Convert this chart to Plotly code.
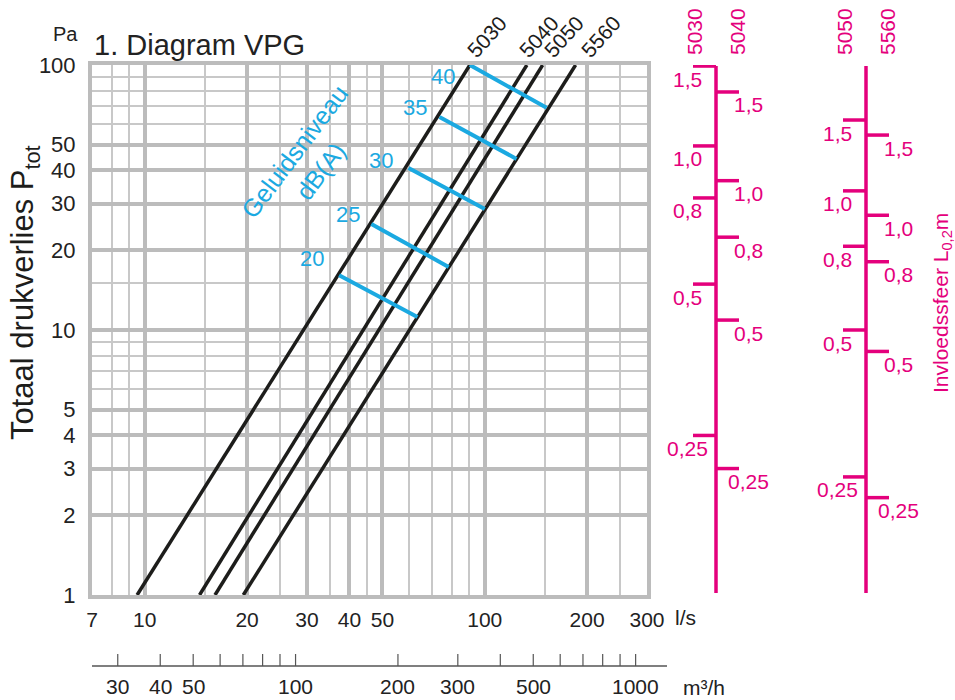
import numpy as np
import plotly.graph_objects as go

# ---------------- data ----------------
curve_names = ["5030", "5040", "5050", "5560"]
flow_at_1pa = [9.5, 14.5, 16.1, 19.5]          # l/s at 1 Pa
flow_at_100pa = [90.4, 133.0, 148.0, 185.0]    # l/s at 100 Pa
pressure_ends = [1, 100]                        # Pa

db_levels = ["20", "25", "30", "35", "40"]
db_flow_start = [37.3, 46.4, 59.7, 73.6, 90.4]
db_pa_start = [16.1, 25.1, 40.9, 63.7, 100.0]
db_flow_end = [63.4, 78.3, 100.0, 124.0, 152.0]
db_pa_end = [11.2, 17.3, 28.6, 44.2, 68.9]

x_major = [7, 10, 20, 30, 40, 50, 100, 200, 300]
x_minor = [8, 9, 15, 25, 35, 45, 60, 70, 80, 90, 150, 250]
y_major = [1, 2, 3, 4, 5, 10, 20, 30, 40, 50, 100]
y_minor = [6, 7, 8, 9, 15, 60, 70, 80, 90]

m3h_ticks = [30, 40, 50, 60, 70, 80, 90, 100, 200, 300, 400, 500, 600, 700, 800, 900, 1000]
m3h_labels = [30, 40, 50, 100, 200, 300, 500, 1000]
M3H_TO_LS = 1 / 3.6

throw_labels = ["1,5", "1,0", "0,8", "0,5", "0,25"]
throw_pa_5030 = [99.1, 49.5, 31.5, 14.9, 4.0]
throw_pa_5040 = [79.1, 36.6, 22.4, 10.9, 3.0]
throw_pa_5050 = [62.0, 33.5, 20.7, 10.0, 2.79]
throw_pa_5560 = [54.4, 27.1, 18.1, 8.3, 2.33]

# ---------------- style ----------------
FONT = "Liberation Sans"
BLACK = "#1d1d1b"
GRID_MAJ = "#bcbcbc"
GRID_MIN = "#c8c8c8"
BLUE = "#1ba9e1"
MAGENTA = "#e4007c"
TXT = "#222222"

W, H = 955, 700
L, R, T, B = 92, 308, 65, 105
PW, PH = W - L - R, H - T - B


def px_x(p):
    return (p - L) / PW


def px_y(p):
    return (H - B - p) / PH


fig = go.Figure()

# curves
for name, q1, q100 in zip(curve_names, flow_at_1pa, flow_at_100pa):
    fig.add_trace(go.Scatter(x=[q1, q100], y=pressure_ends, mode="lines",
                             line=dict(color=BLACK, width=3.5), name=name,
                             hoverinfo="skip"))

# dB(A) lines
for lvl, xs, ys, xe, ye in zip(db_levels, db_flow_start, db_pa_start, db_flow_end, db_pa_end):
    fig.add_trace(go.Scatter(x=[xs, xe], y=[ys, ye], mode="lines",
                             line=dict(color=BLUE, width=4), name=lvl + " dB(A)",
                             hoverinfo="skip"))

annotations = []
shapes = []

# curve labels
curve_label_dx = [17, 12, 21, 25]
for name, q100, dx in zip(curve_names, flow_at_100pa, curve_label_dx):
    annotations.append(dict(x=np.log10(q100), y=np.log10(pressure_ends[1]), xref="x", yref="y",
                            text=name, showarrow=False, textangle=-48,
                            xanchor="center", yanchor="middle", xshift=dx, yshift=29,
                            font=dict(family=FONT, size=21, color=BLACK)))

# dB labels
db_label_shift = [(-27, 17), (-23, 10), (-28, 7), (-24, 9), (-27, -11)]
for lvl, xs, ys, (dx, dy) in zip(db_levels, db_flow_start, db_pa_start, db_label_shift):
    annotations.append(dict(x=np.log10(xs), y=np.log10(ys), xref="x", yref="y",
                            text=lvl, showarrow=False, xanchor="center", yanchor="middle",
                            xshift=dx, yshift=dy,
                            font=dict(family=FONT, size=22, color=BLUE)))

annotations.append(dict(x=px_x(308), y=px_y(162), xref="paper", yref="paper",
                        text="Geluidsniveau<br>dB(A)", showarrow=False, textangle=-53,
                        xanchor="center", yanchor="middle",
                        font=dict(family=FONT, size=25, color=BLUE)))

# title, units
annotations.append(dict(x=0, y=px_y(45), xref="paper", yref="paper", text="1. Diagram VPG",
                        showarrow=False, xanchor="left", yanchor="middle",
                        font=dict(family=FONT, size=29, color=TXT)))
annotations.append(dict(x=px_x(65), y=px_y(34), xref="paper", yref="paper", text="Pa",
                        showarrow=False, xanchor="center", yanchor="middle",
                        font=dict(family=FONT, size=20, color=TXT)))
annotations.append(dict(x=px_x(25), y=px_y(293), xref="paper", yref="paper",
                        text="Totaal drukverlies P<sub>tot</sub>", showarrow=False,
                        textangle=-90, xanchor="center", yanchor="middle",
                        font=dict(family=FONT, size=31, color=BLACK)))
annotations.append(dict(x=px_x(673), y=px_y(617), xref="paper", yref="paper", text="l/s",
                        showarrow=False, xanchor="left", yanchor="middle",
                        font=dict(family=FONT, size=21, color=TXT)))
annotations.append(dict(x=px_x(681), y=px_y(687), xref="paper", yref="paper", text="m³/h",
                        showarrow=False, xanchor="left", yanchor="middle",
                        font=dict(family=FONT, size=21, color=TXT)))

# m3/h secondary scale
shapes.append(dict(type="line", xref="paper", yref="paper", x0=0, x1=px_x(667),
                   y0=px_y(666), y1=px_y(666), line=dict(color="#555555", width=1.5)))
for v in m3h_ticks:
    shapes.append(dict(type="line", xref="x", yref="paper", x0=v * M3H_TO_LS, x1=v * M3H_TO_LS,
                       y0=px_y(654), y1=px_y(666), line=dict(color="#555555", width=1.2)))
for v in m3h_labels:
    annotations.append(dict(x=np.log10(v * M3H_TO_LS), y=px_y(686), xref="x", yref="paper",
                            text=str(v), showarrow=False, xanchor="center", yanchor="middle",
                            font=dict(family=FONT, size=21, color=TXT)))

# throw (Invloedssfeer) scales
AX1, AX2 = px_x(716), px_x(866)
TL = 23 / PW
scales = [("5030", throw_pa_5030, AX1, -1), ("5040", throw_pa_5040, AX1, 1),
          ("5050", throw_pa_5050, AX2, -1), ("5560", throw_pa_5560, AX2, 1)]
for ax in (AX1, AX2):
    shapes.append(dict(type="line", xref="paper", yref="paper", x0=ax, x1=ax,
                       y0=px_y(593), y1=px_y(66), line=dict(color=MAGENTA, width=3.5)))
for name, pas, ax, side in scales:
    for lab, pa in zip(throw_labels, pas):
        shapes.append(dict(type="line", xref="paper", yref="y", x0=ax, x1=ax + side * TL,
                           y0=pa, y1=pa, line=dict(color=MAGENTA, width=3.5)))
        annotations.append(dict(x=ax, y=np.log10(pa), xref="paper", yref="y", text=lab,
                                showarrow=False, xanchor="center", yanchor="middle",
                                xshift=(-29 if side < 0 else 32), yshift=-13,
                                font=dict(family=FONT, size=21, color=MAGENTA)))
    annotations.append(dict(x=ax, y=px_y(32), xref="paper", yref="paper", text=name,
                            showarrow=False, textangle=-90, xanchor="center", yanchor="middle",
                            xshift=(-21 if side < 0 else 22),
                            font=dict(family=FONT, size=21, color=MAGENTA)))

annotations.append(dict(x=px_x(942), y=px_y(303), xref="paper", yref="paper",
                        text="Invloedssfeer L<sub>0,2</sub>m", showarrow=False, textangle=-90,
                        xanchor="center", yanchor="middle",
                        font=dict(family=FONT, size=21, color=MAGENTA)))

fig.update_layout(
    width=W, height=H, autosize=False,
    margin=dict(l=L, r=R, t=T, b=B, pad=0),
    paper_bgcolor="white", plot_bgcolor="white",
    showlegend=False,
    annotations=annotations, shapes=shapes,
    xaxis=dict(type="log", range=[np.log10(7), np.log10(300)],
               tickmode="array", tickvals=x_major, ticktext=[str(v) for v in x_major],
               showgrid=True, gridcolor=GRID_MAJ, gridwidth=3.5,
               minor=dict(tickmode="array", tickvals=x_minor, showgrid=True,
                          gridcolor=GRID_MIN, gridwidth=1.5, ticks=""),
               showline=True, linecolor=GRID_MAJ, linewidth=4, mirror=True,
               ticks="", ticklabelstandoff=3, zeroline=False,
               tickfont=dict(family=FONT, size=21, color=TXT)),
    yaxis=dict(type="log", range=[0, 2],
               tickmode="array", tickvals=y_major, ticktext=[str(v) for v in y_major],
               showgrid=True, gridcolor=GRID_MAJ, gridwidth=3.5,
               minor=dict(tickmode="array", tickvals=y_minor, showgrid=True,
                          gridcolor=GRID_MIN, gridwidth=1.5, ticks=""),
               showline=True, linecolor=GRID_MAJ, linewidth=4, mirror=True,
               ticks="", ticklabelstandoff=8, zeroline=False,
               tickfont=dict(family=FONT, size=22, color=TXT)),
)

fig.write_html("out.html", config={"displayModeBar": False},
               post_script="document.body.style.margin='0';document.body.style.overflow='hidden';")
